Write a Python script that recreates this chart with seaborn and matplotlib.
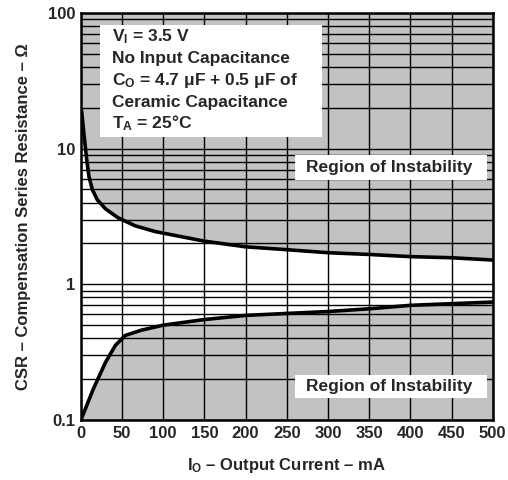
import matplotlib
matplotlib.use("Agg")
import matplotlib.pyplot as plt
from matplotlib.patches import Rectangle
import seaborn as sns
import pandas as pd

# ---- data ----
upper_x = [1, 4, 7, 10, 14, 20, 30, 45, 66, 90, 150, 200, 250, 300, 350, 400, 450, 500]
upper_y = [19, 12.5, 8.5, 6.2, 5.0, 4.2, 3.6, 3.1, 2.7, 2.45, 2.08, 1.89, 1.80, 1.71, 1.66, 1.60, 1.57, 1.51]
lower_x = [1, 15, 30, 42, 54, 74, 100, 150, 200, 250, 300, 350, 400, 450, 500]
lower_y = [0.103, 0.168, 0.266, 0.355, 0.42, 0.46, 0.50, 0.55, 0.59, 0.61, 0.63, 0.66, 0.70, 0.72, 0.74]
x_ticks = [0, 50, 100, 150, 200, 250, 300, 350, 400, 450, 500]
y_ticks = [0.1, 1, 10, 100]
y_tick_labels = ["0.1", "1", "10", "100"]
info_lines = [r"V$_\mathrm{I}$ = 3.5 V",
              "No Input Capacitance",
              r"C$_\mathrm{O}$ = 4.7 μF + 0.5 μF of",
              "Ceramic Capacitance",
              r"T$_\mathrm{A}$ = 25°C"]
region_label = "Region of Instability"
x_label = r"I$_\mathrm{O}$ – Output Current – mA"
y_label = "CSR – Compensation Series Resistance – Ω"

sns.set_style("white")
plt.rcParams["font.family"] = ["Liberation Sans", "DejaVu Sans"]
plt.rcParams["font.weight"] = "bold"
plt.rcParams["mathtext.fontset"] = "custom"
plt.rcParams["mathtext.rm"] = "Liberation Sans:bold"
plt.rcParams["mathtext.it"] = "Liberation Sans:bold"
plt.rcParams["mathtext.bf"] = "Liberation Sans:bold"
plt.rcParams["mathtext.default"] = "rm"

fig = plt.figure(figsize=(5.08, 4.8), dpi=100)
ax = fig.add_axes([0.159, 0.125, 0.811, 0.848])

shade = "#c2c2c2"
ax.fill_between(upper_x, upper_y, 100, color=shade, lw=0, zorder=1)
ax.fill_between(lower_x, 0.1, lower_y, color=shade, lw=0, zorder=1)

df_u = pd.DataFrame({"x": upper_x, "y": upper_y})
df_l = pd.DataFrame({"x": lower_x, "y": lower_y})
sns.lineplot(data=df_u, x="x", y="y", ax=ax, color="black", lw=2.6, zorder=3)
sns.lineplot(data=df_l, x="x", y="y", ax=ax, color="black", lw=2.6, zorder=3)

ax.set_yscale("log")
ax.set_xlim(0, 500)
ax.set_ylim(0.1, 100)
ax.set_xticks(x_ticks)
ax.set_xticklabels([str(v) for v in x_ticks], fontsize=12, fontweight="bold")
ax.set_yticks(y_ticks)
ax.set_yticklabels(y_tick_labels, fontsize=12, fontweight="bold")
ax.yaxis.set_minor_locator(matplotlib.ticker.LogLocator(base=10, subs=range(2, 10)))
ax.yaxis.set_minor_formatter(matplotlib.ticker.NullFormatter())
ax.set_axisbelow(False)
ax.grid(True, which="both", axis="y", color="black", lw=1.0, zorder=2)
ax.grid(True, which="major", axis="x", color="black", lw=1.0, zorder=2)
ax.tick_params(which="both", length=0, pad=4)
for s in ax.spines.values():
    s.set_linewidth(1.8)
    s.set_color("black")
    s.set_zorder(5)

ax.set_xlabel(x_label, fontsize=12, fontweight="bold", labelpad=11)
ax.set_ylabel(y_label, fontsize=12, fontweight="bold", labelpad=12)

# info box
ax.add_patch(Rectangle((0.047, 0.695), 0.538, 0.275, transform=ax.transAxes,
                       facecolor="white", edgecolor="none", zorder=4))
baselines = [0.9295, 0.8764, 0.823, 0.7698, 0.7167]
for line, yb in zip(info_lines, baselines):
    ax.text(0.076, yb, line, transform=ax.transAxes, fontsize=12.5,
            fontweight="bold", va="baseline", ha="left", zorder=6)

# region labels
for (y0, y1) in [(0.59, 0.651), (0.054, 0.111)]:
    ax.add_patch(Rectangle((0.52, y0), 0.465, y1 - y0, transform=ax.transAxes,
                           facecolor="white", edgecolor="none", zorder=4))
    ax.text(0.749, (y0 + y1) / 2, region_label, transform=ax.transAxes,
            fontsize=12.5, fontweight="bold", ha="center", va="center", zorder=6)

fig.savefig("out.png", dpi=100)
